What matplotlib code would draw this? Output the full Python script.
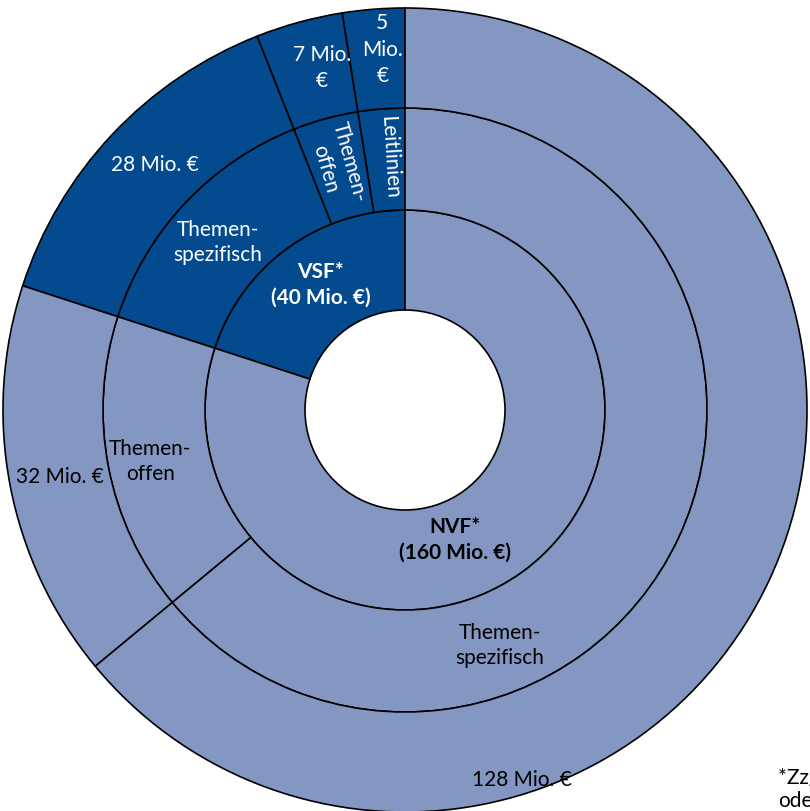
import matplotlib
matplotlib.use('Agg')
import matplotlib.pyplot as plt
import numpy as np

plt.rcParams['font.family'] = ['Lato', 'DejaVu Sans']

# inner ring
inner_labels = ['VSF*\n(40 Mio. €)', 'NVF*\n(160 Mio. €)']
inner_values = [40, 160]
# middle and outer ring share the same split
mid_labels = ['Leitlinien', 'Themen-\noffen', 'Themen-\nspezifisch',
              'Themen-\noffen', 'Themen-\nspezifisch']
outer_labels = ['5\nMio.\n€', '7 Mio.\n€', '28 Mio. €', '32 Mio. €', '128 Mio. €']
sub_values = [5, 7, 28, 32, 128]
sub_group = [0, 0, 0, 1, 1]

dark = '#034a8e'
light = '#8497c3'
group_cols = [dark, light]

W, H = 810, 811
cx, cy = 405, H - 410
r0, r1, r2, r3 = 100, 200, 302, 402

fig = plt.figure(figsize=(W / 100, H / 100), dpi=100)
ax = fig.add_axes([0, 0, 1, 1])

wp = dict(edgecolor='black', linewidth=1.2)
ax.pie(inner_values, radius=r1, center=(cx, cy), startangle=90, counterclock=True,
       colors=group_cols, wedgeprops=dict(width=r1 - r0, **wp))
sub_cols = [group_cols[g] for g in sub_group]
ax.pie(sub_values, radius=r2, center=(cx, cy), startangle=90, counterclock=True,
       colors=sub_cols, wedgeprops=dict(width=r2 - r1, **wp))
ax.pie(sub_values, radius=r3, center=(cx, cy), startangle=90, counterclock=True,
       colors=sub_cols, wedgeprops=dict(width=r3 - r2, **wp))

fs = 15
ls = 1.3


def polar(ang, r):
    a = np.deg2rad(ang)
    return cx + r * np.cos(a), cy + r * np.sin(a)


def txtcol(g):
    return 'white' if g == 0 else 'black'


# label placement (angle in degrees, radius in px)
inner_pos = [(124, 151), (291, 139)]
for lab, (a, r), g in zip(inner_labels, inner_pos, [0, 1]):
    x, y = polar(a, r)
    ax.text(x, y, lab, ha='center', va='center', fontsize=fs, fontweight='bold',
            color=txtcol(g), linespacing=ls)

mid_pos = [(93.4, 253), (105.5, 254), (138.2, 251), (191.5, 260), (291.9, 254)]
mid_rot = [a - 180 if i < 2 else 0 for i, (a, r) in enumerate(mid_pos)]
for lab, (a, r), rot, g in zip(mid_labels, mid_pos, mid_rot, sub_group):
    x, y = polar(a, r)
    ax.text(x, y, lab, ha='center', va='center', fontsize=fs, rotation=rot,
            rotation_mode='anchor', color=txtcol(g), linespacing=ls)

outer_pos = [(93.6, 361), (103.6, 352), (135.6, 350), (191, 352), (287.5, 388)]
for lab, (a, r), g in zip(outer_labels, outer_pos, sub_group):
    x, y = polar(a, r)
    ax.text(x, y, lab, ha='center', va='center', fontsize=fs,
            color=txtcol(g), linespacing=1.4)

# footnote, cut off by the right edge as in the original
ax.text(778, H - 778, '*Zzgl. Mittel', ha='left', va='center', fontsize=fs)
ax.text(778, H - 801, 'oder', ha='left', va='center', fontsize=fs)

ax.set_xlim(0, W)
ax.set_ylim(0, H)
ax.set_aspect('equal')
ax.axis('off')
fig.savefig('out.png', dpi=100, facecolor='white')
